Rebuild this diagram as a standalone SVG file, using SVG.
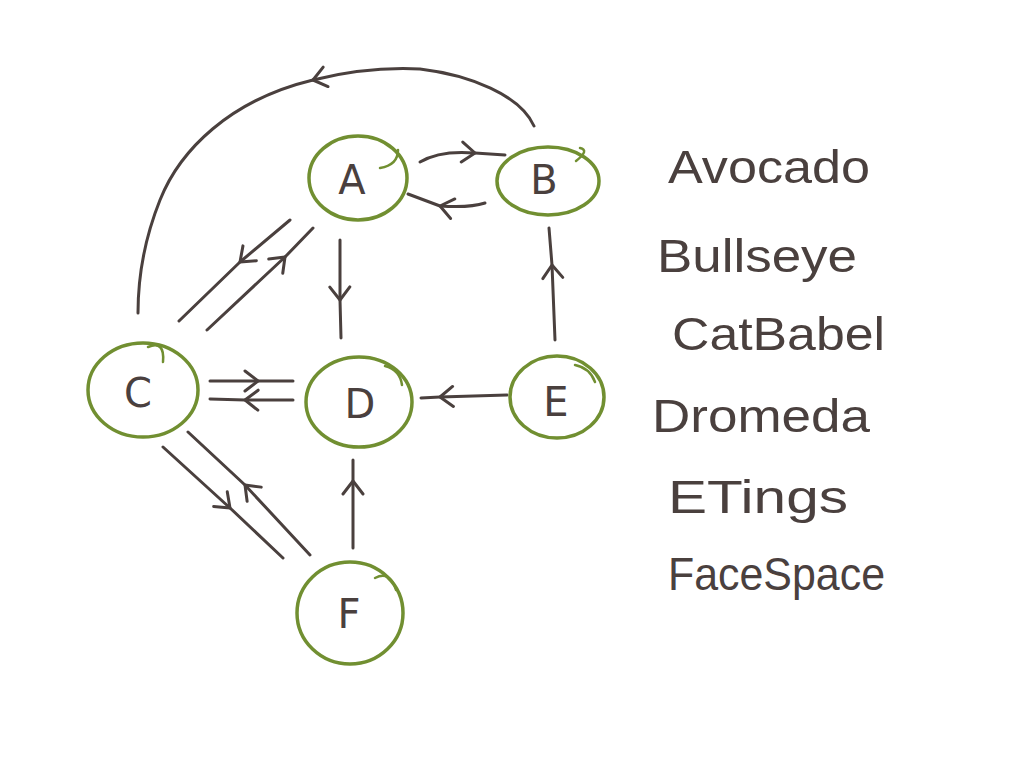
<svg xmlns="http://www.w3.org/2000/svg" width="1024" height="768" viewBox="0 0 1024 768">
<defs>
<marker id="ah" viewBox="-16 -12 18 24" markerWidth="18" markerHeight="24" refX="0" refY="0" orient="auto" markerUnits="userSpaceOnUse">
<path d="M-13,-10 L0,0 L-13,10" fill="none" stroke="#4a403e" stroke-width="3" stroke-linecap="round" stroke-linejoin="round"/>
</marker>
<style>
.node{fill:none;stroke:#718f31;stroke-width:3.5}
.hook{fill:none;stroke:#718f31;stroke-width:2.5;stroke-linecap:round}
.lbl{font-family:"DejaVu Sans","Liberation Sans",sans-serif;font-size:40px;fill:#4a403e;text-anchor:middle}
.line{fill:none;stroke:#4a403e;stroke-width:3;stroke-linecap:round;stroke-linejoin:round}
.edge{marker-mid:url(#ah)}
.tip{marker-end:url(#ah)}
.name{font-family:"Liberation Sans","DejaVu Sans",sans-serif;font-size:46px;fill:#4a403e}
</style>
</defs>
<rect width="1024" height="768" fill="#ffffff"/>
<g id="connectors">
<path class="line edge" d="M420,162 Q440,150 475,153 L505,155"/>
<path class="line edge" d="M485,203 Q470,208 440,206 L408,194"/>
<path class="line tip" d="M534,126 C520,95 470,75 420,69 C380,67 345,72 313,80"/>
<path class="line" d="M313,80 C230,100 180,150 160,200 C140,250 138,290 138,313"/>
<path class="line edge" d="M290,220 L240,262 L179,321"/>
<path class="line edge" d="M207,330 L285,257 L313,228"/>
<path class="line edge" d="M340,240 L340,300 L341,338"/>
<path class="line edge" d="M210,381 L258,381 L293,381"/>
<path class="line edge" d="M293,400 L245,400 L210,399"/>
<path class="line edge" d="M507,395 L440,397 L421,398"/>
<path class="line edge" d="M555,340 L552,265 L549,228"/>
<path class="line edge" d="M353,548 L353,481 L353,460"/>
<path class="line edge" d="M163,447 L230,508 L283,558"/>
<path class="line edge" d="M310,555 L245,485 L188,432"/>
</g>
<g id="node-A">
<ellipse class="node" cx="358" cy="178" rx="49" ry="42"/>
<path class="hook" d="M380,168 Q398,165 398,150"/>
<text class="lbl" x="352" y="194">A</text>
</g>
<g id="node-B">
<ellipse class="node" cx="548" cy="181" rx="51" ry="34"/>
<path class="hook" d="M576,161 Q590,150 580,148"/>
<text class="lbl" x="544" y="194">B</text>
</g>
<g id="node-C">
<ellipse class="node" cx="143" cy="390" rx="55" ry="47"/>
<path class="hook" d="M148,347 Q165,340 163,362"/>
<text class="lbl" x="138" y="407">C</text>
</g>
<g id="node-D">
<ellipse class="node" cx="359" cy="402" rx="53" ry="45"/>
<path class="hook" d="M385,366 Q400,370 402,385"/>
<text class="lbl" x="360" y="418">D</text>
</g>
<g id="node-E">
<ellipse class="node" cx="557" cy="397" rx="47" ry="41"/>
<path class="hook" d="M575,365 Q590,368 595,382"/>
<text class="lbl" x="556" y="416">E</text>
</g>
<g id="node-F">
<ellipse class="node" cx="350" cy="613" rx="53" ry="51"/>
<path class="hook" d="M375,578 Q390,570 396,590"/>
<text class="lbl" x="349" y="628">F</text>
</g>
<g id="legend">
<text class="name" x="668" y="183" textLength="202" lengthAdjust="spacingAndGlyphs">Avocado</text>
<text class="name" x="657" y="272" textLength="200" lengthAdjust="spacingAndGlyphs">Bullseye</text>
<text class="name" x="672" y="350" textLength="213" lengthAdjust="spacingAndGlyphs">CatBabel</text>
<text class="name" x="652" y="432" textLength="218" lengthAdjust="spacingAndGlyphs">Dromeda</text>
<text class="name" x="668" y="513" textLength="180" lengthAdjust="spacingAndGlyphs">ETings</text>
<text class="name" x="668" y="590" textLength="217" lengthAdjust="spacingAndGlyphs">FaceSpace</text>
</g>
</svg>
